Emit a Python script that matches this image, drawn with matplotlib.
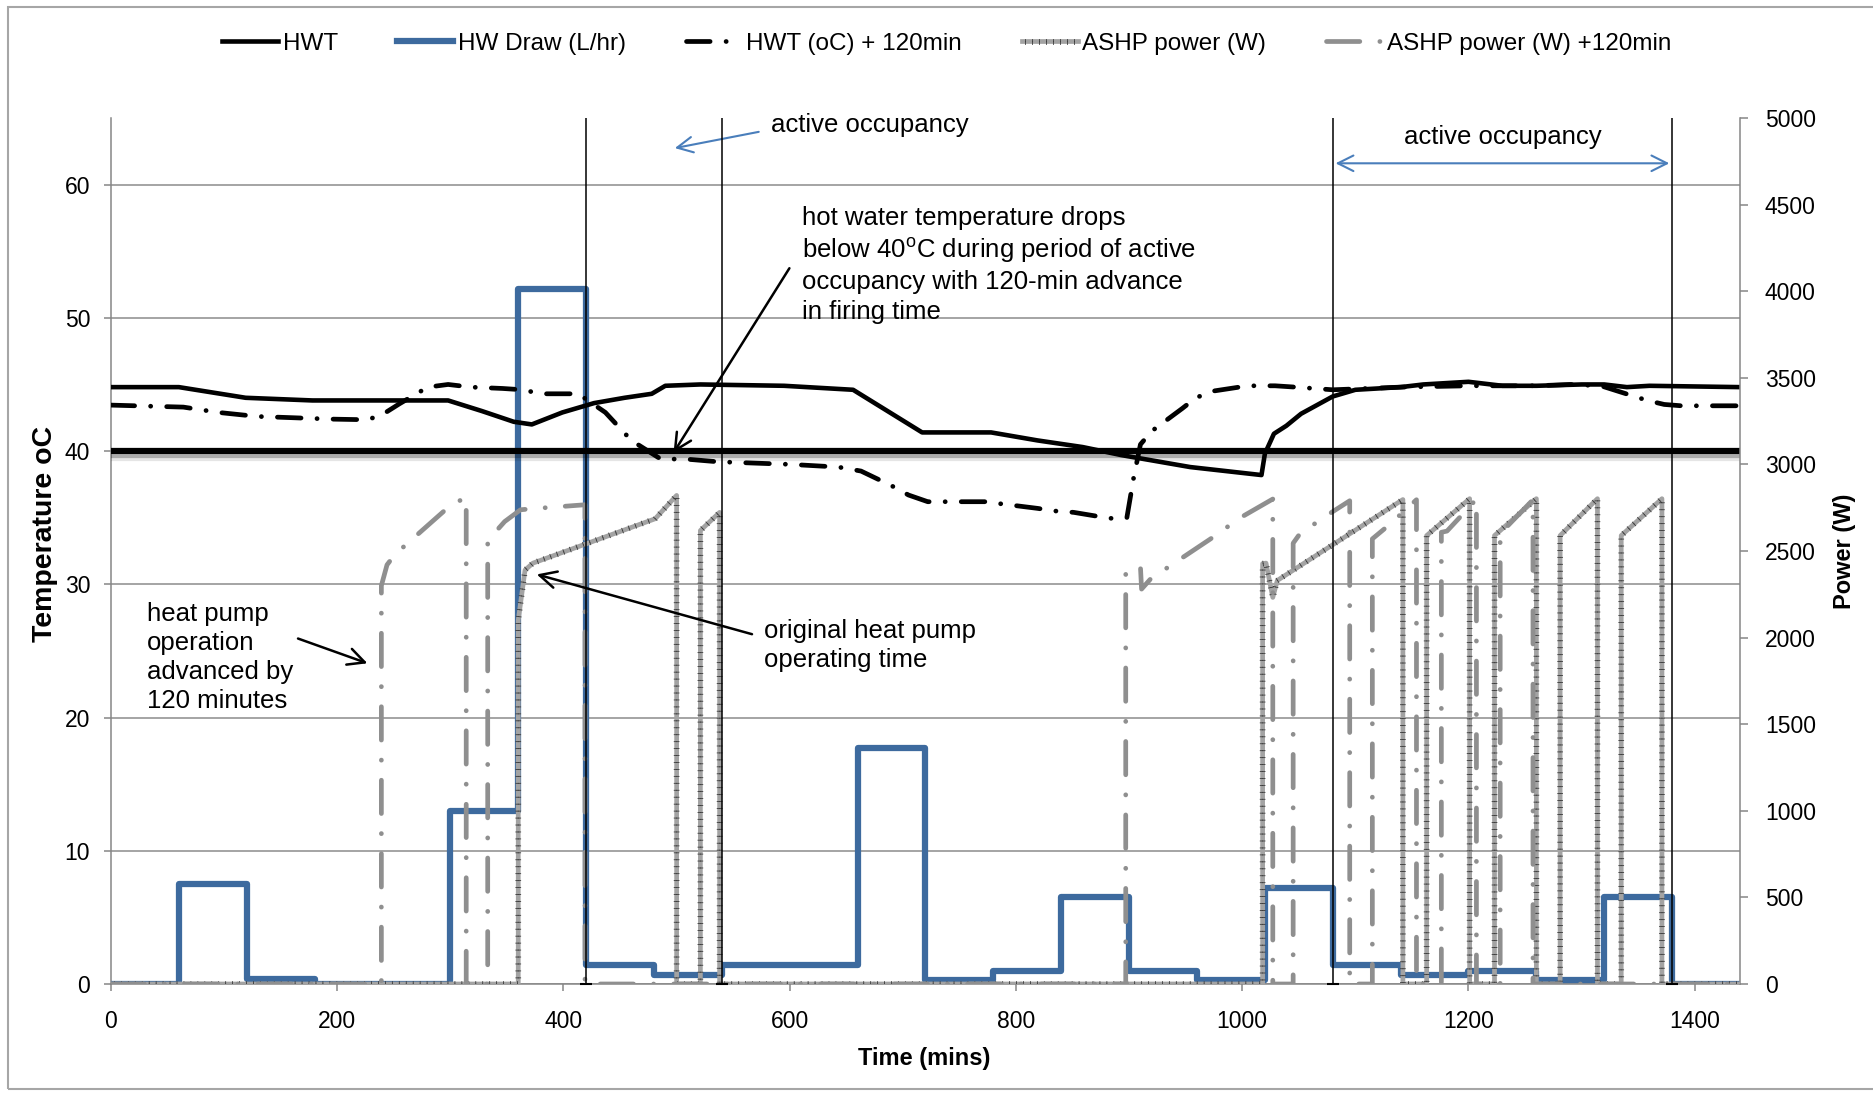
import matplotlib
matplotlib.use('Agg')
import matplotlib.pyplot as plt
import matplotlib.patheffects as pe
from matplotlib.patches import Rectangle

plt.rcParams['font.family'] = ['Liberation Sans', 'DejaVu Sans']
plt.rcParams['mathtext.fontset'] = 'custom'
plt.rcParams['mathtext.rm'] = 'Liberation Sans'
plt.rcParams['lines.scale_dashes'] = False

# hot water draw (L/hr), constant over each interval
hw_edges = [0, 60, 120, 180, 300, 360, 420, 480, 540, 660, 720, 780, 840,
            900, 960, 1020, 1080, 1140, 1200, 1260, 1320, 1380, 1440]
hw_draw = [0, 7.5, 0.4, 0, 13.0, 52.2, 1.4, 0.7, 1.4, 17.7, 0.3, 1.0, 6.5,
           1.0, 0.3, 7.2, 1.4, 0.7, 1.0, 0.3, 6.5, 0]

# hot water tank temperature (oC)
hwt_time = [0, 60, 119, 178, 298, 328, 356, 372, 399, 427, 454, 478, 490, 521,
            595, 656, 717, 778, 819, 859, 893, 954, 1017, 1020, 1028, 1039, 1052,
            1080, 1100, 1140, 1160, 1200, 1230, 1260, 1300, 1320, 1340, 1360, 1440]
hwt_temp = [44.8, 44.8, 44.0, 43.8, 43.8, 43.0, 42.2, 42.0, 42.9, 43.6, 44.0, 44.3, 44.9, 45.0,
            44.9, 44.6, 41.4, 41.4, 40.8, 40.3, 39.7, 38.8, 38.2, 39.8, 41.3, 41.9, 42.8,
            44.1, 44.6, 44.8, 45.0, 45.2, 44.9, 44.9, 45.0, 45.0, 44.8, 44.9, 44.8]

# tank temperature with firing advanced by 120 min
adv_hwt_time = [0, 64, 95, 129, 162, 194, 227, 241, 255, 280, 298, 318, 346, 364, 380, 413,
                437, 460, 486, 508, 536, 568, 601, 643, 663, 690, 705, 722, 753, 777, 786,
                819, 835, 851, 883, 898, 904, 910, 920, 947, 959, 974, 1005, 1029, 1047,
                1080, 1140, 1200, 1260, 1290, 1317, 1358, 1373, 1388, 1440]
adv_hwt_temp = [43.45, 43.3, 42.9, 42.6, 42.5, 42.4, 42.35, 42.8, 43.55, 44.8, 45.0, 44.8, 44.7, 44.6, 44.3, 44.3,
                42.9, 40.8, 39.4, 39.4, 39.2, 39.1, 39.0, 38.8, 38.5, 37.4, 36.7, 36.2, 36.2, 36.2, 36.05,
                35.7, 35.5, 35.4, 34.95, 35.0, 38.0, 40.5, 41.5, 43.2, 44.0, 44.5, 44.9, 44.9, 44.8,
                44.6, 44.8, 44.9, 44.9, 45.0, 44.9, 43.8, 43.5, 43.4, 43.4]

# heat pump electrical power (W)
ashp_time = [0, 360, 360, 366, 373, 481, 500, 500, 521, 521, 538, 538,
             1018, 1018, 1021, 1027, 1031, 1142, 1142, 1163, 1163, 1201, 1201,
             1223, 1223, 1260, 1260, 1281, 1281, 1314, 1314, 1335, 1335, 1371, 1371, 1440]
ashp_power = [0, 0, 2100, 2390, 2430, 2686, 2821, 0, 0, 2618, 2723, 0,
              0, 2427, 2430, 2232, 2330, 2797, 0, 0, 2589, 2802, 0,
              0, 2589, 2802, 0, 0, 2589, 2802, 0, 0, 2589, 2802, 0, 0]

adv_ashp_time = [0, 239, 239, 244, 251, 300, 314, 314, 333, 333, 348, 362, 376, 419, 419,
                 897, 897, 910, 911, 919, 944, 972, 998, 1027, 1027, 1045, 1045, 1051, 1078,
                 1095, 1095, 1115, 1115, 1131, 1154, 1154, 1176, 1176, 1181, 1192, 1207, 1207,
                 1228, 1228, 1257, 1257, 1440]
adv_ashp_power = [0, 0, 2300, 2420, 2480, 2763, 2810, 0, 0, 2560, 2670, 2738, 2746, 2767, 0,
                  0, 2377, 2410, 2280, 2339, 2448, 2570, 2691, 2800, 0, 0, 2545, 2600, 2719,
                  2790, 0, 0, 2570, 2657, 2796, 0, 0, 2608, 2615, 2692, 2800, 0,
                  0, 2600, 2796, 0, 0]

occupancy_marks = [420, 540, 1080, 1380]

BLUE = '#3d6a9e'
AXGRAY = '#868686'

fig = plt.figure(figsize=(18.74, 10.93), dpi=100)
ax = fig.add_axes([111 / 1874, 1 - 984 / 1093, (1740 - 111) / 1874, (984 - 118) / 1093])
ax2 = ax.twinx()

ax.set_xlim(0, 1440)
ax.set_ylim(0, 65)
ax2.set_ylim(0, 5000)

ax.yaxis.grid(True, color='#8c8c8c', lw=1.1)
ax.set_axisbelow(True)

l_draw, = ax.step(hw_edges, hw_draw + [hw_draw[-1]], where='post', color=BLUE, lw=4.5,
                  solid_joinstyle='round', zorder=3, label='HW Draw (L/hr)')
l_hwt, = ax.plot(hwt_time, hwt_temp, color='k', lw=3.3, zorder=4, label='HWT')
l_adv, = ax.plot(adv_hwt_time, adv_hwt_temp, color='k', lw=3.4, dashes=(17, 11.5, 0.1, 11.5),
                 dash_capstyle='round', zorder=4, label='HWT (oC) + 120min')

ax.axhline(40, color='k', lw=4.5, zorder=5,
           path_effects=[pe.SimpleLineShadow(offset=(0, -2.5), shadow_color='k', alpha=0.25),
                         pe.SimpleLineShadow(offset=(0, -5), shadow_color='k', alpha=0.1),
                         pe.Normal()])

hatch = [pe.Normal(),
         pe.TickedStroke(angle=90, spacing=5, length=0.35, linewidth=0.6, foreground='#3a3a3a'),
         pe.TickedStroke(angle=-90, spacing=5, length=0.35, linewidth=0.6, foreground='#3a3a3a')]
l_ashp, = ax2.plot(ashp_time, ashp_power, color='#a3a3a3', lw=3.4, path_effects=hatch,
                   zorder=3, label='ASHP power (W)')
l_adv_ashp, = ax2.plot(adv_ashp_time, adv_ashp_power, color='#8f8f8f', lw=3.4,
                       dashes=(24, 14.4, 0.1, 14.4), dash_capstyle='round', zorder=3,
                       label='ASHP power (W) +120min')

for x in occupancy_marks:
    ax2.axvline(x, color='k', lw=1.1, zorder=6)
    ax2.plot(x, 0, marker='_', ms=9, mew=1.5, color='k', clip_on=False, zorder=6)

# axes styling
ax.set_xticks(range(0, 1401, 200))
ax.set_yticks(range(0, 61, 10))
ax2.set_yticks(range(0, 5001, 500))
ax.tick_params(axis='x', direction='out', length=5, width=1.1, color=AXGRAY, labelsize=16.5, pad=14)
ax.tick_params(axis='y', direction='out', length=5, width=1.1, color=AXGRAY, labelsize=16.5, pad=10)
ax2.tick_params(axis='y', direction='out', length=6, width=1.1, color=AXGRAY, labelsize=16.5, pad=12)
for s in ['top', 'right']:
    ax.spines[s].set_visible(False)
for s in ['top', 'left', 'bottom']:
    ax2.spines[s].set_visible(False)
for s in [ax.spines['left'], ax.spines['bottom'], ax2.spines['right']]:
    s.set_color(AXGRAY)
    s.set_linewidth(1.1)

ax.set_xlabel('Time (mins)', fontsize=17, fontweight='bold', va='center')
ax.xaxis.set_label_coords(0.499, -0.0866)
ax.set_ylabel('Temperature oC', fontsize=20.5, fontweight='bold', va='center')
ax.yaxis.set_label_coords(-0.0405, 0.52)
ax2.set_ylabel('Power (W)', fontsize=17, fontweight='bold', va='center')
ax2.yaxis.set_label_coords(1.064, 0.5)

# annotations
tr = ax.transData
fs = 18.5
ls = 1.27
arr_blue = dict(arrowstyle='->', color='#4a7ebb', lw=1.5, mutation_scale=28)
arr_black = dict(arrowstyle='->', color='k', lw=1.8, mutation_scale=30)

ax2.text(583, 64.5, 'active occupancy', transform=tr, fontsize=fs, va='center', ha='left')
ax2.annotate('', xy=(496, 62.7), xytext=(575, 64.0), xycoords=tr, textcoords=tr,
             arrowprops=arr_blue, annotation_clip=False)

ax2.text(1230, 63.6, 'active occupancy', transform=tr, fontsize=fs, va='center', ha='center')
ax2.annotate('', xy=(1380, 61.6), xytext=(1080, 61.6), xycoords=tr, textcoords=tr,
             arrowprops=dict(arrowstyle='<->', color='#4a7ebb', lw=1.5, mutation_scale=28))

ax2.text(611, 54.0, 'hot water temperature drops\nbelow 40$^{\\rm o}$C during period of active\n'
         'occupancy with 120-min advance\nin firing time',
         transform=tr, fontsize=fs, va='center', ha='left', linespacing=ls)
ax2.annotate('', xy=(496, 39.7), xytext=(601, 53.9), xycoords=tr, textcoords=tr,
             arrowprops=arr_black)

ax2.text(32, 24.5, 'heat pump\noperation\nadvanced by\n120 minutes', transform=tr,
         fontsize=fs, va='center', ha='left', linespacing=ls)
ax2.annotate('', xy=(229, 24.0), xytext=(163, 26.0), xycoords=tr, textcoords=tr,
             arrowprops=arr_black)

ax2.text(577, 25.4, 'original heat pump\noperating time', transform=tr,
         fontsize=fs, va='center', ha='left', linespacing=ls)
ax2.annotate('', xy=(374, 30.8), xytext=(569, 26.2), xycoords=tr, textcoords=tr,
             arrowprops=arr_black)

fig.legend([l_hwt, l_draw, l_adv, l_ashp, l_adv_ashp],
           ['HWT', 'HW Draw (L/hr)', 'HWT (oC) + 120min', 'ASHP power (W)', 'ASHP power (W) +120min'],
           loc='center', bbox_to_anchor=(0.505, 0.96), ncol=5, frameon=False, fontsize=17.5,
           handlelength=2.3, handletextpad=0.2, columnspacing=2.45)

fig.add_artist(Rectangle((8 / 1874, 4 / 1093), 1.0, 1 - 11 / 1093, transform=fig.transFigure,
                         fill=False, edgecolor='#a6a6a6', lw=1.5))

fig.savefig('out.png', dpi=100)
